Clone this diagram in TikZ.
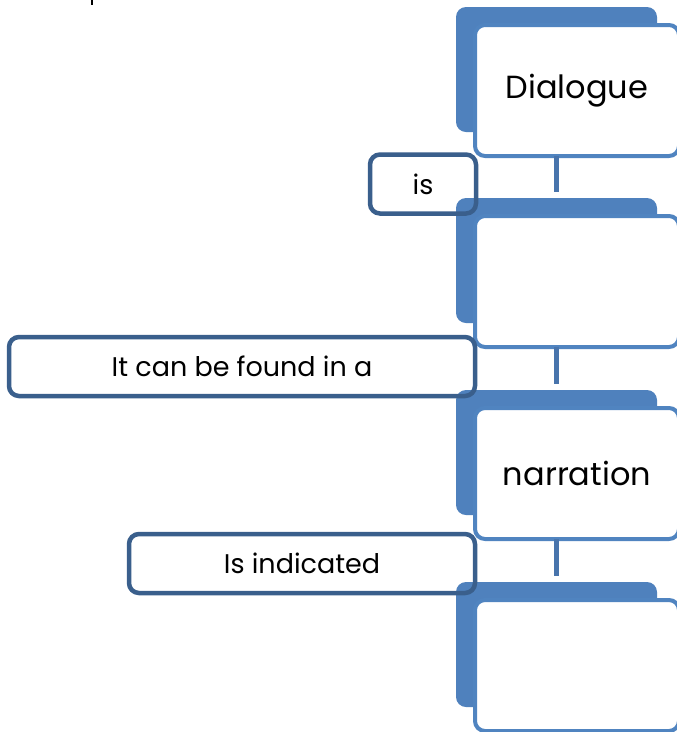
\documentclass[tikz,border=0pt]{standalone}
\usepackage{fontspec}
\setmainfont{Poppins}
\definecolor{backblue}{HTML}{4F81BD}
\definecolor{frontblue}{HTML}{5084C0}
\definecolor{connblue}{HTML}{4874AC}
\definecolor{labelblue}{HTML}{3A5F8C}
\tikzset{
  backrect/.style={fill=backblue, rounded corners=10pt, minimum width=201pt, minimum height=125pt, inner sep=0pt, outer sep=0pt},
  frontbox/.style={draw=frontblue, fill=white, line width=4pt, rounded corners=10pt, minimum width=204pt, minimum height=131pt, inner sep=0pt, outer sep=0pt, font=\fontsize{32}{38}\selectfont},
  labelbox/.style={draw=labelblue, line width=4.5pt, rounded corners=10pt, minimum height=59pt, inner sep=0pt, outer sep=0pt, font=\fontsize{27}{32}\selectfont},
  conn/.style={draw=connblue, line width=5pt}
}
\begin{document}
\begin{tikzpicture}[x=1pt,y=-1pt]
\useasboundingbox (0,0) rectangle (677,732);
\clip (0,0) rectangle (677,732);
\fill[white] (0,0) rectangle (677,732);
% small cropped mark at top
\fill[black] (91,0) rectangle (93,5);
% back rectangles
\node[backrect] (back1) at (556.5,69.5) {};
\node[backrect] (back2) at (556.5,260.5) {};
\node[backrect] (back3) at (556.5,452.5) {};
\node[backrect] (back4) at (556.5,644.5) {};
% front boxes
\node[frontbox] (front1) at (577,90.5) {Dialogue};
\node[frontbox] (front2) at (577,281.5) {};
\node[frontbox] (front3) at (577,473.5) {narration};
\node[frontbox] (front4) at (577,665.5) {};
% connectors
\draw[conn, shorten >=6pt] (back1.center |- front1.south) -- (back2.north);
\draw[conn, shorten >=6pt] (back2.center |- front2.south) -- (back3.north);
\draw[conn, shorten >=6pt] (back3.center |- front3.south) -- (back4.north);
% label boxes
\node[labelbox, minimum width=106pt] (lab1) at (423,184) {is};
\node[labelbox, minimum width=466pt] (lab2) at (242,366.5) {It can be found in a};
\node[labelbox, minimum width=346pt] (lab3) at (302,563.5) {Is indicated};
\end{tikzpicture}
\end{document}
